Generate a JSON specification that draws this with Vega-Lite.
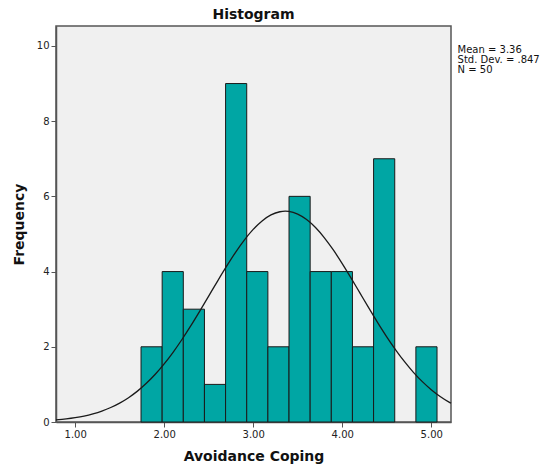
{
  "$schema": "https://vega.github.io/schema/vega-lite/v6.json",
  "width": 395,
  "height": 396,
  "autosize": "none",
  "padding": {"left": 56, "top": 26, "right": 91, "bottom": 48},
  "background": "white",
  "config": {
    "font": "DejaVu Sans",
    "view": {"fill": "#f0f0f0", "stroke": "#555555", "strokeWidth": 1.5},
    "axis": {"grid": false, "domainColor": "#555555", "tickColor": "#555555", "labelColor": "#222222", "labelFontSize": 10, "titleFontSize": 14, "titleFontWeight": "bold", "titleColor": "#111111", "tickSize": 5, "domainWidth": 1.5}
  },
  "title": {"text": "Histogram", "fontSize": 14, "fontWeight": "bold", "anchor": "middle", "offset": 4, "color": "#111111"},
  "datasets": {
    "bins": [
      {"start": 1.740, "end": 1.9775, "count": 2},
      {"start": 1.9775, "end": 2.215, "count": 4},
      {"start": 2.215, "end": 2.4525, "count": 3},
      {"start": 2.4525, "end": 2.690, "count": 1},
      {"start": 2.690, "end": 2.9275, "count": 9},
      {"start": 2.9275, "end": 3.165, "count": 4},
      {"start": 3.165, "end": 3.4025, "count": 2},
      {"start": 3.4025, "end": 3.640, "count": 6},
      {"start": 3.640, "end": 3.8775, "count": 4},
      {"start": 3.8775, "end": 4.115, "count": 4},
      {"start": 4.115, "end": 4.3525, "count": 2},
      {"start": 4.3525, "end": 4.590, "count": 7},
      {"start": 4.8275, "end": 5.065, "count": 2}
    ],
    "curve": [
      {"x": 0.785, "y": 0.055}, {"x": 0.9, "y": 0.083}, {"x": 1.0, "y": 0.116}, {"x": 1.1, "y": 0.159},
      {"x": 1.2, "y": 0.217}, {"x": 1.3, "y": 0.291}, {"x": 1.4, "y": 0.385}, {"x": 1.5, "y": 0.503},
      {"x": 1.6, "y": 0.647}, {"x": 1.7, "y": 0.821}, {"x": 1.8, "y": 1.028}, {"x": 1.9, "y": 1.269},
      {"x": 2.0, "y": 1.545}, {"x": 2.1, "y": 1.853}, {"x": 2.2, "y": 2.194}, {"x": 2.3, "y": 2.561},
      {"x": 2.4, "y": 2.949}, {"x": 2.5, "y": 3.348}, {"x": 2.6, "y": 3.748}, {"x": 2.7, "y": 4.137},
      {"x": 2.8, "y": 4.505}, {"x": 2.9, "y": 4.837}, {"x": 3.0, "y": 5.121}, {"x": 3.1, "y": 5.347},
      {"x": 3.2, "y": 5.506}, {"x": 3.3, "y": 5.591}, {"x": 3.36, "y": 5.605}, {"x": 3.4, "y": 5.599},
      {"x": 3.5, "y": 5.529}, {"x": 3.6, "y": 5.384}, {"x": 3.7, "y": 5.171}, {"x": 3.8, "y": 4.898},
      {"x": 3.9, "y": 4.574}, {"x": 4.0, "y": 4.213}, {"x": 4.1, "y": 3.827}, {"x": 4.2, "y": 3.427},
      {"x": 4.3, "y": 3.028}, {"x": 4.4, "y": 2.638}, {"x": 4.5, "y": 2.266}, {"x": 4.6, "y": 1.920},
      {"x": 4.7, "y": 1.604}, {"x": 4.8, "y": 1.321}, {"x": 4.9, "y": 1.073}, {"x": 5.0, "y": 0.860},
      {"x": 5.1, "y": 0.679}, {"x": 5.2, "y": 0.530}, {"x": 5.222, "y": 0.503}
    ],
    "stats": [
      {"label": "Mean = 3.36", "ypos": 9.89},
      {"label": "Std. Dev. = .847", "ypos": 9.62},
      {"label": "N = 50", "ypos": 9.35}
    ]
  },
  "layer": [
    {
      "data": {"name": "bins"},
      "mark": {"type": "bar", "fill": "#00a6a4", "stroke": "#1a1a1a", "strokeWidth": 1},
      "encoding": {
        "x": {"field": "start", "type": "quantitative",
              "scale": {"domain": [0.785, 5.222], "nice": false, "zero": false},
              "axis": {"values": [1, 2, 3, 4, 5], "format": ".2f", "title": "Avoidance Coping", "titlePadding": 10}},
        "x2": {"field": "end"},
        "y": {"field": "count", "type": "quantitative",
              "scale": {"domain": [0, 10.53], "nice": false},
              "axis": {"values": [0, 2, 4, 6, 8, 10], "title": "Frequency", "titlePadding": 10}},
        "y2": {"datum": 0}
      }
    },
    {
      "data": {"name": "curve"},
      "mark": {"type": "line", "color": "#1a1a1a", "strokeWidth": 1.3, "interpolate": "monotone"},
      "encoding": {
        "x": {"field": "x", "type": "quantitative"},
        "y": {"field": "y", "type": "quantitative"}
      }
    },
    {
      "data": {"name": "stats"},
      "mark": {"type": "text", "align": "left", "baseline": "middle", "fontSize": 10, "color": "#111111"},
      "encoding": {
        "x": {"datum": 5.296, "type": "quantitative"},
        "y": {"field": "ypos", "type": "quantitative"},
        "text": {"field": "label"}
      }
    }
  ]
}
